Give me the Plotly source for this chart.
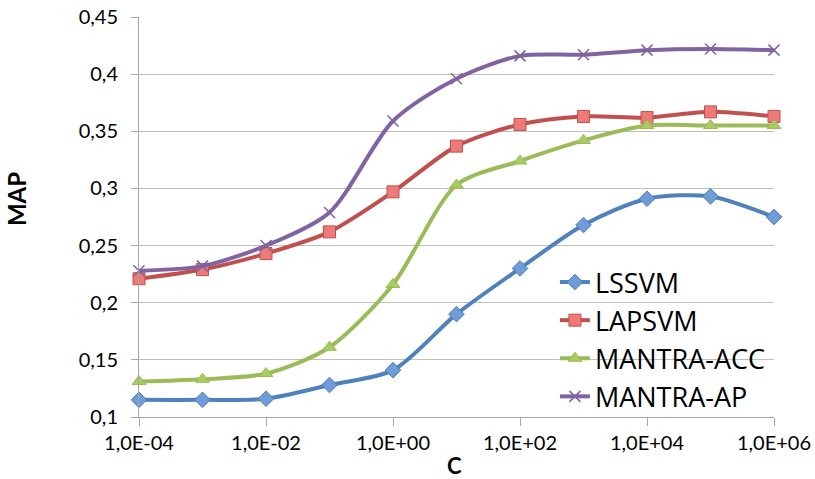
import plotly.graph_objects as go

# Regularisation parameter C (one point per decade)
c_values = [1e-4, 1e-3, 1e-2, 1e-1, 1e0, 1e1, 1e2, 1e3, 1e4, 1e5, 1e6]

lssvm = [0.115, 0.115, 0.116, 0.128, 0.141, 0.190, 0.230, 0.268, 0.291, 0.293, 0.275]
lapsvm = [0.221, 0.229, 0.243, 0.262, 0.297, 0.337, 0.356, 0.363, 0.362, 0.367, 0.363]
mantra_acc = [0.131, 0.133, 0.138, 0.161, 0.216, 0.303, 0.324, 0.342, 0.355, 0.355, 0.355]
mantra_ap = [0.228, 0.232, 0.250, 0.279, 0.359, 0.396, 0.416, 0.417, 0.421, 0.422, 0.421]

x_tick_vals = [1e-4, 1e-2, 1e0, 1e2, 1e4, 1e6]
x_tick_text = ["1,0E-04", "1,0E-02", "1,0E+00", "1,0E+02", "1,0E+04", "1,0E+06"]
y_tick_vals = [0.1, 0.15, 0.2, 0.25, 0.3, 0.35, 0.4, 0.45]
y_tick_text = ["0,1", "0,15", "0,2", "0,25", "0,3", "0,35", "0,4", "0,45"]

series = [
    ("LSSVM", lssvm, "#4F81BD", dict(symbol="diamond", size=12, color="#6F9BD8",
                                     line=dict(color="#4A7EBB", width=1))),
    ("LAPSVM", lapsvm, "#C0504D", dict(symbol="square", size=12, color="#EE7A78",
                                       line=dict(color="#C0504D", width=1))),
    ("MANTRA-ACC", mantra_acc, "#9BBB59", dict(symbol="triangle-up", size=12, color="#A8CB62",
                                                line=dict(color="#98B954", width=1))),
    ("MANTRA-AP", mantra_ap, "#8064A2", dict(symbol="x-thin", size=11, color="#8064A2",
                                              line=dict(color="#8064A2", width=1.5))),
]

font_family = "Lato, 'Open Sans', sans-serif"

fig = go.Figure()
for name, values, color, marker in series:
    fig.add_trace(go.Scatter(
        x=c_values, y=values, name=name, mode="lines+markers",
        line=dict(color=color, width=4, shape="spline", smoothing=0.8),
        marker=marker, cliponaxis=False,
    ))

fig.update_layout(
    width=815, height=479,
    margin=dict(l=139, r=41, t=17, b=62, autoexpand=False),
    paper_bgcolor="white", plot_bgcolor="white",
    font=dict(family=font_family, color="#000000", size=20),
    showlegend=True,
    legend=dict(
        x=0.655, y=0.3975, xanchor="left", yanchor="top",
        bgcolor="rgba(0,0,0,0)", font=dict(size=27, family="'Open Sans', sans-serif"),
        itemwidth=30, tracegroupgap=0,
    ),
    xaxis=dict(
        type="log", range=[-4, 6], automargin=False,
        tickvals=x_tick_vals, ticktext=x_tick_text,
        showgrid=False, zeroline=False,
        showline=True, linecolor="#A6A6A6", linewidth=1,
        ticks="outside", ticklen=8, tickcolor="#A6A6A6",
        tickfont=dict(size=20),
    ),
    yaxis=dict(
        range=[0.1, 0.45], automargin=False,
        tickvals=y_tick_vals, ticktext=y_tick_text,
        showgrid=True, gridcolor="#BFBFBF", gridwidth=1, zeroline=False,
        showline=True, linecolor="#A6A6A6", linewidth=1,
        ticks="outside", ticklen=7, tickcolor="#A6A6A6",
        ticklabelstandoff=9,
        tickfont=dict(size=20),
    ),
    annotations=[
        dict(text="<b>MAP</b>", textangle=-90, xref="paper", yref="paper",
             x=-0.192, y=0.545, xanchor="center", yanchor="middle",
             showarrow=False, font=dict(size=24)),
        dict(text="<b>C</b>", xref="paper", yref="paper",
             x=0.4975, y=-0.12, xanchor="center", yanchor="middle",
             showarrow=False, font=dict(size=22)),
    ],
)

fig.write_html("out.html")
